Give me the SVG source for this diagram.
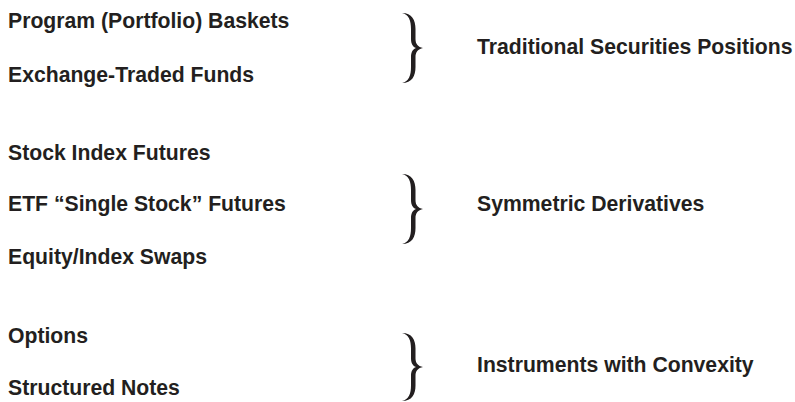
<svg xmlns="http://www.w3.org/2000/svg" width="795" height="402" viewBox="0 0 795 402">
  <defs>
    <style>
      .t { font-family: "Liberation Sans", Arial, Helvetica, sans-serif; font-weight: bold; font-size: 21.2px; fill: #231f20; }
      .brace { fill: #231f20; }
    </style>
    <path id="br" d="M0,0 C10,0 13.5,7 13.5,16 L13.5,26 C13.5,31 16,34 21,35 C16,36 13.5,39 13.5,44 L13.5,54 C13.5,63 10,70 0,70 C7,68.5 9,62 9,54 L9,44 C9,39 11,36 14,35 C11,34 9,31 9,26 L9,16 C9,8 7,1.5 0,0 Z"/>
  </defs>
  <rect width="795" height="402" fill="#ffffff"/>
  <g id="items">
    <g id="program-baskets"><text class="t" x="8" y="28">Program (Portfolio) Baskets</text></g>
    <g id="etfs"><text class="t" x="8" y="82">Exchange-Traded Funds</text></g>
    <g id="stock-index-futures"><text class="t" x="8" y="160">Stock Index Futures</text></g>
    <g id="etf-single-stock-futures"><text class="t" x="8" y="211">ETF “Single Stock” Futures</text></g>
    <g id="equity-index-swaps"><text class="t" x="8" y="264">Equity/Index Swaps</text></g>
    <g id="options"><text class="t" x="8" y="343">Options</text></g>
    <g id="structured-notes"><text class="t" x="8" y="395">Structured Notes</text></g>
  </g>
  <g id="connectors">
    <use href="#br" class="brace" transform="translate(402,13)"/>
    <use href="#br" class="brace" transform="translate(402,174)"/>
    <use href="#br" class="brace" transform="translate(402,333) scale(1,0.97)"/>
  </g>
  <g id="categories">
    <g id="traditional"><text class="t" x="477" y="54">Traditional Securities Positions</text></g>
    <g id="symmetric"><text class="t" x="477" y="211">Symmetric Derivatives</text></g>
    <g id="convexity"><text class="t" x="477" y="372">Instruments with Convexity</text></g>
  </g>
</svg>
